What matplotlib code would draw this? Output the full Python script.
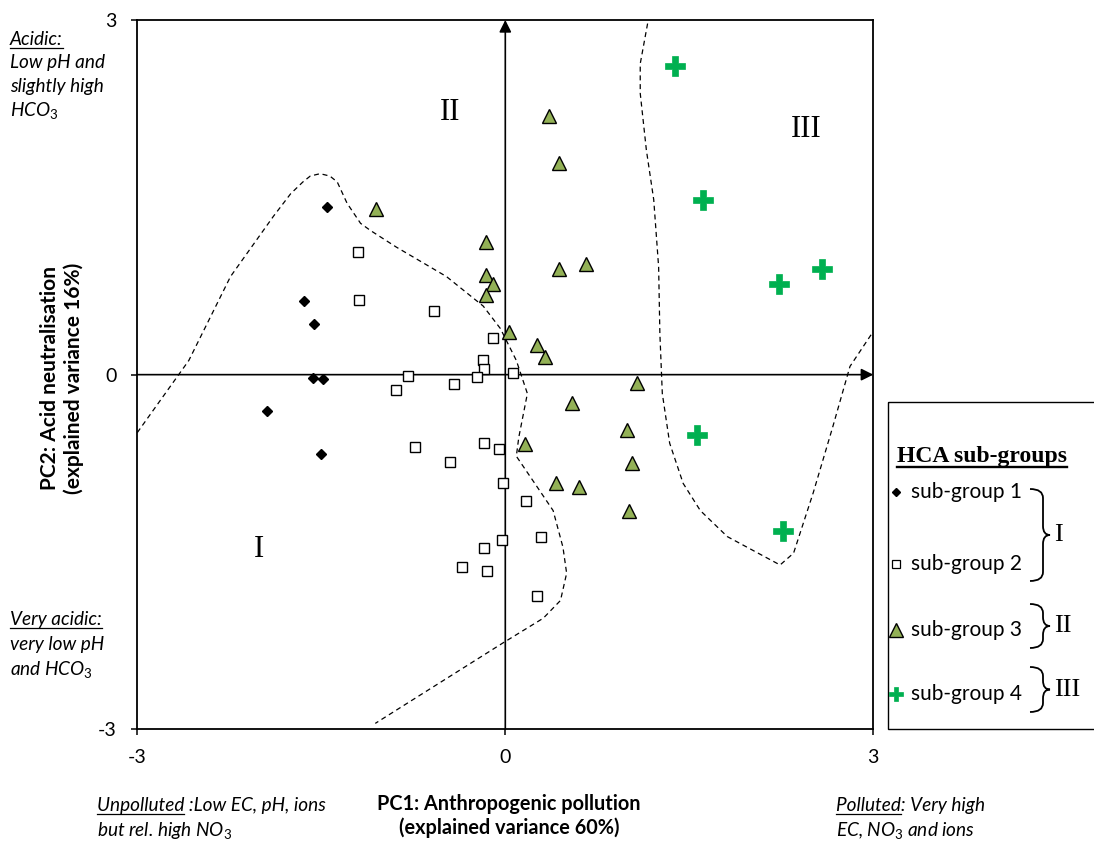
import matplotlib
matplotlib.use("Agg")
import matplotlib.pyplot as plt
from matplotlib.path import Path
from matplotlib.patches import PathPatch, Rectangle

plt.rcParams["font.family"] = ["Lato", "DejaVu Sans"]
plt.rcParams["mathtext.fontset"] = "custom"
plt.rcParams["mathtext.it"] = "Lato:italic"
plt.rcParams["mathtext.rm"] = "Lato"
plt.rcParams["axes.unicode_minus"] = False

# ---- PCA scores by HCA sub-group -------------------------------------------
sg1_pc1 = [-1.45, -1.64, -1.56, -1.57, -1.49, -1.94, -1.50]
sg1_pc2 = [1.42, 0.62, 0.43, -0.03, -0.04, -0.31, -0.67]

sg2_pc1 = [-1.20, -1.19, -0.58, -0.10, -0.18, -0.17, 0.06, -0.79, -0.89, -0.42,
           -0.23, -0.74, -0.17, -0.45, -0.05, -0.02, 0.17, -0.03, -0.17, -0.35,
           -0.15, 0.29, 0.26]
sg2_pc2 = [1.04, 0.63, 0.54, 0.31, 0.12, 0.05, 0.01, -0.01, -0.13, -0.08,
           -0.02, -0.61, -0.58, -0.74, -0.63, -0.92, -1.07, -1.40, -1.47, -1.63,
           -1.66, -1.37, -1.87]

sg3_pc1 = [-1.05, -0.16, -0.16, -0.10, -0.16, 0.03, 0.36, 0.44, 0.44, 0.66,
           0.26, 0.32, 1.07, 0.54, 0.99, 0.16, 1.03, 0.41, 0.60, 1.01]
sg3_pc2 = [1.40, 1.12, 0.84, 0.77, 0.67, 0.36, 2.19, 1.79, 0.89, 0.94,
           0.25, 0.15, -0.07, -0.24, -0.47, -0.59, -0.75, -0.92, -0.95, -1.15]

sg4_pc1 = [1.38, 1.61, 2.23, 2.58, 1.56, 2.26]
sg4_pc2 = [2.61, 1.48, 0.77, 0.89, -0.51, -1.32]

# ---- hand-drawn cluster boundaries (PC1, PC2) -------------------------------
bound_I_pc1 = [-3.00, -2.58, -2.24, -1.89, -1.75, -1.65, -1.59, -1.51, -1.43,
               -1.37, -1.29, -1.18, -1.10, -0.89, -0.48, -0.18, -0.04, 0.09,
               0.18, 0.11, 0.09, 0.26, 0.39, 0.47, 0.50, 0.45, 0.31, -0.02,
               -1.06]
bound_I_pc2 = [-0.49, 0.12, 0.83, 1.34, 1.53, 1.63, 1.68, 1.70, 1.68, 1.63,
               1.45, 1.28, 1.22, 1.08, 0.83, 0.58, 0.39, 0.12, -0.16, -0.53,
               -0.69, -0.95, -1.15, -1.46, -1.68, -1.91, -2.06, -2.27, -2.95]

bound_III_pc1 = [1.16, 1.10, 1.10, 1.15, 1.21, 1.25, 1.26, 1.28, 1.34, 1.45,
                 1.59, 1.81, 2.24, 2.35, 2.51, 2.67, 2.81, 2.99]
bound_III_pc2 = [2.97, 2.63, 2.38, 1.90, 1.48, 0.91, 0.35, -0.16, -0.58, -0.92,
                 -1.15, -1.37, -1.61, -1.51, -1.00, -0.44, 0.07, 0.35]

ticks = [-3, 0, 3]
group_names = ["sub-group 1", "sub-group 2", "sub-group 3", "sub-group 4"]
cluster_names = ["I", "II", "III"]

OLIVE = "#93B156"
GREEN = "#00B050"
W, H = 1094, 844

fig = plt.figure(figsize=(W / 100, H / 100), dpi=100)
ax = fig.add_axes([137.3 / W, 1 - 729.3 / H, 736 / W, 709.3 / H])
ax.set_xlim(-3, 3)
ax.set_ylim(-3, 3)
ax.set_xticks(ticks)
ax.set_yticks(ticks)
ax.tick_params(direction="out", length=4, width=1.1, labelsize=14, colors="black")
ax.tick_params(axis="x", pad=10)
ax.tick_params(axis="y", pad=11)
for sp in ax.spines.values():
    sp.set_linewidth(1.3)
    sp.set_color("black")

# central axes with arrows
arrow = dict(arrowstyle="-|>,head_length=0.6,head_width=0.3", lw=1.2,
             color="black", shrinkA=0, shrinkB=0, mutation_scale=12)
ax.annotate("", xy=(3, 0), xytext=(-3, 0), arrowprops=arrow, zorder=2)
ax.annotate("", xy=(0, 3), xytext=(0, -3), arrowprops=arrow, zorder=2)

# boundaries
ax.plot(bound_I_pc1, bound_I_pc2, ls=(0, (4, 3)), color="black", lw=0.9,
        zorder=3, clip_on=False)
ax.plot(bound_III_pc1, bound_III_pc2, ls=(0, (4, 3)), color="black", lw=0.9,
        zorder=3, clip_on=False)

# sample scores
ax.plot(sg1_pc1, sg1_pc2, ls="none", marker="D", ms=5.2, mfc="black",
        mec="black", zorder=5)
ax.plot(sg2_pc1, sg2_pc2, ls="none", marker="s", ms=6.5, mfc="white",
        mec="black", mew=1.0, zorder=5)
ax.plot(sg3_pc1, sg3_pc2, ls="none", marker="^", ms=10, mfc=OLIVE,
        mec="black", mew=1.0, zorder=6)
ax.plot(sg4_pc1, sg4_pc2, ls="none", marker="P", ms=14, mfc=GREEN,
        mec=GREEN, mew=0.5, zorder=6)

# cluster labels
serif = ["Liberation Serif", "DejaVu Serif"]
ax.text(-0.45, 2.22, cluster_names[1], family=serif, fontsize=22,
        ha="center", va="center")
ax.text(2.45, 2.07, cluster_names[2], family=serif, fontsize=22,
        ha="center", va="center")
ax.text(-2.01, -1.48, cluster_names[0], family=serif, fontsize=22,
        ha="center", va="center")

# axis titles
ax.set_xlabel("PC1: Anthropogenic pollution\n(explained variance 60%)",
              fontsize=14.3, fontweight="bold", linespacing=1.15,
              va="center", ha="center")
ax.xaxis.set_label_coords((509 - 137.3) / 736, (729.3 - 816) / 709.3)
ax.set_ylabel("PC2: Acid neutralisation\n(explained variance 16%)",
              fontsize=15, fontweight="bold", linespacing=1.2,
              va="center", ha="center",
              family=["Liberation Sans Narrow", "Lato", "DejaVu Sans"])
ax.yaxis.set_label_coords((62 - 137.3) / 736, (729.3 - 378) / 709.3)

# overlay in figure pixels for annotations and the group key
ov = fig.add_axes([0, 0, 1, 1], zorder=10)
ov.set_xlim(0, W)
ov.set_ylim(H, 0)
ov.axis("off")

renderer = fig.canvas.get_renderer()


def text_width(s, **kw):
    t = ov.text(0, 0, s, **kw)
    w = t.get_window_extent(renderer).width
    t.remove()
    return w


def note(x, y, s, underline=None, **kw):
    kw.setdefault("fontsize", 13.7)
    kw.setdefault("style", "italic")
    ov.text(x, y, s, va="baseline", ha="left", **kw)
    if underline:
        w = text_width(underline, **kw)
        ov.plot([x, x + w], [y + 2.5, y + 2.5], color="black", lw=0.9)


note(10, 45, "Acidic:", underline="Acidic:")
note(10, 68, "Low pH and")
note(10, 92, "slightly high")
note(10, 116, r"HCO$_\mathit{3}$")
note(10, 625, "Very acidic:", underline="Very acidic:")
note(10, 650, "very low pH")
note(10, 675, r"and HCO$_\mathit{3}$")
note(97, 811, "Unpolluted :Low EC, pH, ions", underline="Unpolluted")
note(97, 836, r"but rel. high NO$_\mathit{3}$")
note(836, 811, "Polluted: Very high", underline="Polluted")
note(836, 836, r"EC, NO$_\mathit{3}$ and ions")

# group key
ov.add_patch(Rectangle((887.5, 402), 240, 327, fill=False, ec="black",
                       lw=1.0, clip_on=False))
hdr = "HCA sub-groups"
hdr_kw = dict(family=serif, fontsize=17, fontweight="bold")
ov.text(982, 462, hdr, ha="center", va="baseline", **hdr_kw)
hw = text_width(hdr, **hdr_kw)
ov.plot([982 - hw / 2, 982 + hw / 2], [466.5, 466.5], color="black", lw=1.7)

key_y = [492, 564, 630, 694]
key_style = [
    dict(marker="D", ms=4.0, mfc="black", mec="black"),
    dict(marker="s", ms=5.5, mfc="white", mec="black", mew=0.9),
    dict(marker="^", ms=10, mfc=OLIVE, mec="black", mew=1.0),
    dict(marker="P", ms=10, mfc=GREEN, mec=GREEN, mew=0.5),
]
for yk, name, st in zip(key_y, group_names, key_style):
    ov.plot([896], [yk], ls="none", **st)
    ov.text(911, yk, name, fontsize=15, ha="left", va="center")


def brace(x0, ytop, ybot, w):
    xm = x0 + 0.65 * w
    xt = x0 + w
    ym = (ytop + ybot) / 2
    r = min(9, (ybot - ytop) / 4)
    verts = [(x0, ytop), (xm, ytop), (xm, ytop + r), (xm, ym - r),
             (xm, ym), (xt, ym), (xm, ym), (xm, ym + r), (xm, ybot - r),
             (xm, ybot), (x0, ybot)]
    codes = [Path.MOVETO, Path.CURVE3, Path.CURVE3, Path.LINETO,
             Path.CURVE3, Path.CURVE3, Path.CURVE3, Path.CURVE3, Path.LINETO,
             Path.CURVE3, Path.CURVE3]
    ov.add_patch(PathPatch(Path(verts, codes), fill=False, ec="black", lw=1.3))
    return xt


for (yt, yb), lab in zip([(489, 581), (604, 648), (667, 712)], cluster_names):
    xt = brace(1030, yt, yb, 20)
    ov.text(xt + 4, (yt + yb) / 2, lab, family=serif, fontsize=19,
            ha="left", va="center")

fig.savefig("out.png", dpi=100)
